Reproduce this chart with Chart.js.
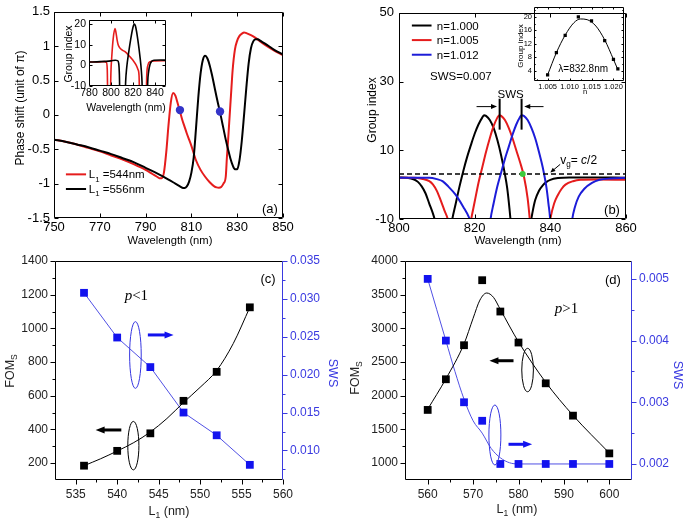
<!DOCTYPE html>
<html>
<head>
<meta charset="utf-8">
<script src="https://cdn.jsdelivr.net/npm/chart.js@4.4.1/dist/chart.umd.min.js"></script>
<style>
  html, body { margin: 0; padding: 0; background: #fff; }
  #wrap { position: relative; width: 685px; height: 522px; }
  #wrap canvas { position: absolute; left: 0; top: 0; }
</style>
</head>
<body>
<div id="wrap">
  <canvas id="chartA" width="685" height="522"></canvas>
  <canvas id="chartB" width="685" height="522"></canvas>
  <canvas id="chartC" width="685" height="522"></canvas>
  <canvas id="chartD" width="685" height="522"></canvas>
  <canvas id="insetA" width="685" height="522"></canvas>
  <canvas id="insetB" width="685" height="522"></canvas>
</div>
<script>
// ---- panel (a): phase shift ----
const waveA544 = [750,755,760,765,770,775,780,785,790,793,795,796,797,798,799,800,801,802,803,804,805,806,807,808,809,810,812,814,816,818,820,821,822,823,824,825,825.5,826,826.5,827,827.5,828,829,830,831,832,833,834,836,838,840,843,846,850];
const phaseA544 = [-0.36,-0.39,-0.43,-0.48,-0.53,-0.59,-0.65,-0.72,-0.80,-0.86,-0.9,-0.92,-0.92,-0.84,-0.55,-0.15,0.18,0.32,0.28,0.17,0.05,-0.07,-0.17,-0.27,-0.36,-0.45,-0.66,-0.8,-0.9,-0.98,-1.04,-1.055,-1.06,-1.05,-1.0,-0.9,-0.62,-0.38,-0.12,0.14,0.4,0.65,0.95,1.08,1.15,1.18,1.2,1.19,1.16,1.12,1.07,1.0,0.94,0.87];
const waveA556 = [750,755,760,765,770,775,780,785,790,795,800,803,805,806,807,808,809,810,811,812,813,814,815,816,817,818,819,820,821,822,823,824,825,826,827,828,829,830,831,832,833,834,835,836,837,838,839,840,843,846,850];
const phaseA556 = [-0.36,-0.39,-0.43,-0.47,-0.52,-0.57,-0.63,-0.69,-0.77,-0.85,-0.94,-1.0,-1.04,-1.06,-1.065,-1.04,-0.97,-0.84,-0.62,-0.2,0.25,0.6,0.8,0.86,0.82,0.72,0.58,0.42,0.26,0.11,-0.04,-0.2,-0.36,-0.5,-0.63,-0.73,-0.79,-0.79,-0.66,-0.38,0.0,0.4,0.75,0.97,1.07,1.1,1.1,1.08,1.02,0.95,0.88];
const dotWave = [805, 822.5];
const dotPhase = [0.07, 0.05];
const ticksAX = [750, 770, 790, 810, 830, 850];
const ticksAY = [-1.5, -1, -0.5, 0, 0.5, 1, 1.5];

// inset of (a): group index
const insWave544 = [780,790,794,795.8,796.6,797.2,799.3,799.9,800.8,802,803.6,804.5,805.5,806.5,808,810,813,817,820,823,824.5,825.5,826.2,831.8,832.5,833.5,835.5,840,850];
const insGi544 = [1.6,1.7,1.8,1.5,-2,-20,-20,-4,5,13,17.8,16,12.5,10,8.5,7.5,6.5,4.3,2.5,0,-2,-5,-20,-20,-5,0,1.8,2.1,2.3];
const insWave556 = [780,790,800,804,806,807,807.6,808.3,812.6,813.3,814.3,816,818,820,821.2,822.5,824.5,826.5,827.5,828.2,828.8,832.8,833.4,834.2,835.5,837,839,845,850];
const insGi556 = [1.6,1.8,2.2,2.5,2.3,1.0,-4,-20,-20,-8,-1,6,13,18.5,20,18.5,12,3.5,-2,-8,-20,-20,-8,-3,0.5,2,2.5,2.6,2.5];
const ticksIAX = [780, 800, 820, 840];
const ticksIAY = [-10, 0, 10, 20];

// ---- panel (b): group index ----
const waveB1000 = [800,802,804,805,806,807,808,809,809.5,810,811,813,813.5,814,815,816,817,818,819,820,821,822,822.5,823,824,825,826,827,828,828.6,829.2,829.6,830,834,834.7,835.3,836,837,838,839,840,842,845,850,860];
const giB1000 = [2.1,2.0,1.5,0.8,-0.5,-2.5,-5.5,-8.5,-10.5,-14,-20,-20,-14,-10.5,-5.5,-0.5,4,8,11.5,14.8,17.5,19.5,20.2,20.0,18.8,16.5,13,8.5,3,-1,-7,-12,-20,-20,-12,-8,-4.5,-1.8,-0.2,0.8,1.4,1.9,2.1,2.1,2.0];
const waveB1005 = [800,804,806,808,809,810,811,812,813,813.5,814,818,818.5,819,820,821,822,823,824,825,826,826.5,827,828,829,830,831,832,833,834,834.6,835,835.3,839,839.5,840,841,842,843,844,846,848,852,860];
const giB1005 = [2.0,2.0,1.7,1.0,0,-1.8,-4.5,-7.5,-10.5,-14,-20,-20,-14,-10.5,-5,0.5,5,9.5,13.5,17,19.5,20.2,20.0,18.8,16.5,13.5,10,6.5,2.5,-4,-10.5,-16,-20,-20,-14,-10,-5.5,-3,-1.2,0,1.0,1.4,1.5,1.4];
const waveB1012 = [800,808,810,811.5,813,815,817,818.5,819,819.5,820,823.5,823.8,824.2,825,826,827,828,829,830,831,832,832.4,833,834,835,836,837,838,839,839.5,840,840.3,845,845.4,845.8,846.5,847.5,849,851,853,856,860];
const giB1012 = [2.0,2.0,1.6,1.0,-0.5,-3,-6.5,-9.5,-11,-14,-20,-20,-14,-10,-5.5,-0.5,3.5,7.5,11,14.5,17.5,19.7,20.2,20.0,18.8,16.5,13.5,9.5,5,-1,-5.5,-11,-20,-20,-14,-10,-6.5,-3.5,-1.2,0.5,1.4,1.8,2.0];
const vgWave = [800, 860];
const vgLevel = [3.1, 3.1];
const greenWave = [832.7];
const greenLevel = [3.1];
const ticksBX = [800, 820, 840, 860];
const ticksBY = [-10, 10, 30, 50];

// inset of (b): group index vs n
const nInset = [1.005, 1.007, 1.009, 1.012, 1.015, 1.018, 1.020, 1.021];
const giInset = [2.8, 9.4, 14.5, 20, 18.8, 13, 7.4, 4.6];
const nFit = [1.005, 1.007, 1.009, 1.011, 1.0125, 1.014, 1.016, 1.018, 1.020, 1.021];
const giFit = [2.8, 9.4, 14.6, 18.3, 19.4, 19.2, 17.3, 13.2, 7.4, 4.4];
const ticksIBX = [1.005, 1.010, 1.015, 1.020];
const ticksIBY = [4, 8, 12, 16, 20];

// ---- panel (c): p < 1 ----
const lenC = [536, 540, 544, 548, 552, 556];
const fomC = [185, 273, 377, 570, 742, 1125];
const swsC = [0.0308, 0.0249, 0.0210, 0.0150, 0.0120, 0.0081];
const fitLenC = [536, 538, 540, 542, 544, 546, 548, 550, 552, 554, 556];
const fitFomC = [185, 226, 272, 322, 385, 465, 560, 650, 750, 910, 1125];
const ticksCX = [535, 540, 545, 550, 555, 560];
const ticksCY = [200, 400, 600, 800, 1000, 1200, 1400];
const ticksCY2 = [0.010, 0.015, 0.020, 0.025, 0.030, 0.035];

// ---- panel (d): p > 1 ----
const lenD = [560, 564, 568, 572, 576, 580, 586, 592, 600];
const fomD = [1790, 2245, 2750, 3715, 3250, 2790, 2185, 1705, 1145];
const swsD = [0.005, 0.004, 0.003, 0.0027, 0.002, 0.002, 0.002, 0.002, 0.002];
const fitLenD = [560, 564, 568, 570, 571.5, 573, 574.5, 576, 580, 586, 592, 600];
const fitFomD = [1800, 2250, 2770, 3150, 3420, 3525, 3460, 3280, 2800, 2200, 1710, 1150];
const fitSwsLenD = [560, 562, 564, 566, 568, 570, 572, 574, 576, 578, 580, 600];
const fitSwsD = [0.005, 0.0045, 0.004, 0.0035, 0.00305, 0.0027, 0.0025, 0.00225, 0.0021, 0.00202, 0.002, 0.002];
const ticksDX = [560, 570, 580, 590, 600];
const ticksDY = [1000, 1500, 2000, 2500, 3000, 3500, 4000];
const ticksDY2 = [0.002, 0.003, 0.004, 0.005];

const W = 685, H = 522;
const FONT = '"Liberation Sans", Arial, sans-serif';
const SERIF = '"Liberation Serif", "Times New Roman", serif';
const RED = '#e51c1c';
const BLUE = '#1c1cd8';
const BLUE_MARK = '#1212ee';
const BLUE_LINE = '#5050e4';

Chart.defaults.font.family = FONT;
Chart.defaults.color = '#000';
Chart.defaults.animation = false;
Chart.defaults.events = [];
Chart.defaults.plugins.legend.display = false;
Chart.defaults.plugins.tooltip.enabled = false;
Chart.defaults.elements.point.radius = 0;
Chart.defaults.elements.line.cubicInterpolationMode = 'monotone';

function xy(xs, ys) {
    return xs.map((x, i) => ({ x: x, y: ys[i] }));
}

// padding so that the plot area lands on L,T,R,B of the page
function pad(L, T, R, B, leftW, bottomH, rightW) {
    return { left: L - leftW, top: T, right: W - R - (rightW || 0), bottom: H - B - bottomH };
}

function axis(o) {
    return {
        type: 'linear', position: o.pos, min: o.min, max: o.max,
        grid: { display: false, drawTicks: false },
        border: { display: false },
        afterFit: s => { if (s.isHorizontal()) s.height = o.size; else s.width = o.size; },
        afterBuildTicks: s => { s.ticks = o.ticks.map(v => ({ value: v })); },
        ticks: {
            autoSkip: false, maxRotation: 0, padding: o.gap,
            color: o.color || '#000',
            font: { family: FONT, size: o.font || 12 },
            callback: o.fmt || (v => String(v))
        }
    };
}

// box and tick marks
function frame(spec) {
    return {
        id: 'frame',
        afterDatasetsDraw(chart) {
            const ctx = chart.ctx, a = chart.chartArea;
            const L = Math.round(a.left) + 0.5, R = Math.round(a.right) - 0.5;
            const T = Math.round(a.top) + 0.5, B = Math.round(a.bottom) - 0.5;
            const seg = (x1, y1, x2, y2, c) => {
                ctx.strokeStyle = c; ctx.beginPath(); ctx.moveTo(x1, y1); ctx.lineTo(x2, y2); ctx.stroke();
            };
            ctx.save();
            ctx.lineWidth = 1;
            Object.keys(spec).forEach(id => {
                const s = chart.scales[id], o = spec[id], col = o.color || '#000';
                const major = s.ticks.map(t => t.value);
                const marks = major.map(v => [v, o.len]);
                if (o.minor) {
                    const step = major[1] - major[0];
                    [major[0] - step / 2].concat(major.map(v => v + step / 2)).forEach(v => {
                        if (v > s.min + 1e-9 && v < s.max - 1e-9) marks.push([v, o.len * 0.6]);
                    });
                }
                const sign = o.inward ? 1 : -1;
                marks.forEach(([v, len]) => {
                    const p = Math.round(s.getPixelForValue(v)) + 0.5;
                    if (s.isHorizontal()) {
                        seg(p, B, p, B - sign * len, col);
                        if (o.mirror) seg(p, T, p, T + sign * len, col);
                    } else if (s.position === 'left') {
                        seg(L, p, L + sign * len, p, col);
                        if (o.mirror) seg(R, p, R - sign * len, p, col);
                    } else {
                        seg(R, p, R - sign * len, p, col);
                    }
                });
            });
            seg(L, T, R, T, '#000');
            seg(L, B, R, B, '#000');
            seg(L, T, L, B, '#000');
            seg(R, T, R, B, spec.y2 ? spec.y2.color : '#000');
            ctx.restore();
        }
    };
}

// text with subscripts / italics
function drawParts(ctx, parts, x, y, size, align, color) {
    const segs = parts.map(p => {
        const st = p[1] || {};
        const sz = st.sub ? size * 0.68 : size;
        const font = (st.it ? 'italic ' : '') + sz + 'px ' + (st.serif ? SERIF : FONT);
        ctx.font = font;
        return { text: p[0], font: font, w: ctx.measureText(p[0]).width, dy: st.sub ? size * 0.28 : 0 };
    });
    const total = segs.reduce((s, g) => s + g.w, 0);
    let cx = align === 'center' ? x - total / 2 : (align === 'right' ? x - total : x);
    ctx.fillStyle = color;
    ctx.textAlign = 'left';
    ctx.textBaseline = 'alphabetic';
    const base = y + size * 0.36;
    segs.forEach(g => { ctx.font = g.font; ctx.fillText(g.text, cx, base + g.dy); cx += g.w; });
}

function arrowHead(ctx, x1, y1, x2, y2, len, half) {
    const ang = Math.atan2(y2 - y1, x2 - x1);
    ctx.beginPath();
    ctx.moveTo(x2, y2);
    ctx.lineTo(x2 - len * Math.cos(ang) + half * Math.sin(ang), y2 - len * Math.sin(ang) - half * Math.cos(ang));
    ctx.lineTo(x2 - len * Math.cos(ang) - half * Math.sin(ang), y2 - len * Math.sin(ang) + half * Math.cos(ang));
    ctx.closePath();
    ctx.fill();
}

// annotations: positions in data units unless px is set
function notes(items) {
    return {
        id: 'notes',
        afterDraw(chart) {
            const ctx = chart.ctx;
            const P = (it, p) => it.px ? p : [chart.scales.x.getPixelForValue(p[0]), chart.scales.y.getPixelForValue(p[1])];
            items.forEach(it => {
                const color = it.color || '#000';
                ctx.save();
                ctx.strokeStyle = color;
                ctx.fillStyle = color;
                ctx.lineWidth = it.width || 1;
                if (it.t === 'text') {
                    const p = P(it, it.at);
                    ctx.translate(p[0], p[1]);
                    if (it.rot) ctx.rotate(it.rot * Math.PI / 180);
                    drawParts(ctx, it.parts, 0, 0, it.size || 12, it.align || 'left', color);
                } else if (it.t === 'line' || it.t === 'arrow') {
                    const a = P(it, it.from), b = P(it, it.to);
                    let ex = b[0], ey = b[1];
                    if (it.t === 'arrow') {
                        const d = Math.hypot(b[0] - a[0], b[1] - a[1]);
                        ex = b[0] - (b[0] - a[0]) / d * it.head * 0.7;
                        ey = b[1] - (b[1] - a[1]) / d * it.head * 0.7;
                    }
                    ctx.beginPath(); ctx.moveTo(a[0], a[1]); ctx.lineTo(ex, ey); ctx.stroke();
                    if (it.t === 'arrow') arrowHead(ctx, a[0], a[1], b[0], b[1], it.head, it.half);
                } else if (it.t === 'ellipse') {
                    const c = P(it, it.at);
                    const rx = Math.abs(chart.scales.x.getPixelForValue(it.at[0] + it.r[0]) - c[0]);
                    const ry = Math.abs(chart.scales.y.getPixelForValue(it.at[1] + it.r[1]) - c[1]);
                    ctx.beginPath(); ctx.ellipse(c[0], c[1], rx, ry, 0, 0, Math.PI * 2); ctx.stroke();
                }
                ctx.restore();
            });
        }
    };
}

function make(id, datasets, scales, padding, plugins) {
    return new Chart(document.getElementById(id), {
        type: 'line',
        data: { datasets: datasets },
        options: { responsive: false, layout: { padding: padding }, scales: scales },
        plugins: plugins
    });
}

const L1 = txt => [['L'], ['1', { sub: 1 }], [txt]];

// (a)
make('chartA', [
    { data: xy(dotWave, dotPhase), showLine: false, pointRadius: 4.2, pointBackgroundColor: '#3434c8', pointBorderWidth: 0 },
    { data: xy(waveA556, phaseA556), borderColor: '#000', borderWidth: 2 },
    { data: xy(waveA544, phaseA544), borderColor: RED, borderWidth: 2 }
], {
    x: axis({ pos: 'bottom', min: 750, max: 850, ticks: ticksAX, size: 42, gap: 2, font: 13 }),
    y: axis({ pos: 'left', min: -1.5, max: 1.5, ticks: ticksAY, size: 54, gap: 4, font: 13 })
}, pad(54, 7, 283, 218, 54, 42), [
    frame({ x: { len: 4, inward: true, mirror: true }, y: { len: 4, inward: true, mirror: true } }),
    notes([
        { t: 'line', from: [755.2, -0.865], to: [764, -0.865], color: RED, width: 2 },
        { t: 'text', at: [765.2, -0.865], parts: L1(' =544nm'), size: 11.5 },
        { t: 'line', from: [755.2, -1.078], to: [764, -1.078], width: 2 },
        { t: 'text', at: [765.2, -1.078], parts: L1(' =556nm'), size: 11.5 },
        { t: 'text', at: [844.3, -1.36], parts: [['(a)']], size: 13, align: 'center' },
        { t: 'text', px: true, at: [20, 108], rot: -90, parts: [['Phase shift (unit of π)']], size: 12, align: 'center' },
        { t: 'text', px: true, at: [170, 240], parts: [['Wavelength (nm)']], size: 11.2, align: 'center' }
    ])
]);

// inset of (a)
make('insetA', [
    { data: xy(insWave556, insGi556), borderColor: '#000', borderWidth: 1.6 },
    { data: xy(insWave544, insGi544), borderColor: RED, borderWidth: 1.6 }
], {
    x: axis({ pos: 'bottom', min: 780, max: 850, ticks: ticksIAX, size: 14, gap: 1, font: 10.5 }),
    y: axis({ pos: 'left', min: -10, max: 22, ticks: ticksIAY, size: 20, gap: 3, font: 10.5 })
}, pad(89, 20, 166, 86, 20, 14), [
    frame({ x: { len: 3, inward: true, mirror: true }, y: { len: 3, inward: true, mirror: true } }),
    notes([
        { t: 'text', px: true, at: [68, 54], rot: -90, parts: [['Group index']], size: 10.5, align: 'center' },
        { t: 'text', px: true, at: [126, 107], parts: [['Wavelength (nm)']], size: 10.5, align: 'center' }
    ])
]);

// (b)
make('chartB', [
    { data: xy(greenWave, greenLevel), showLine: false, pointRadius: 3, pointBackgroundColor: '#3ccb3c', pointBorderWidth: 0 },
    { data: xy(vgWave, vgLevel), borderColor: '#000', borderWidth: 1.5, borderDash: [5, 3], cubicInterpolationMode: 'default' },
    { data: xy(waveB1012, giB1012), borderColor: BLUE, borderWidth: 2 },
    { data: xy(waveB1005, giB1005), borderColor: RED, borderWidth: 2 },
    { data: xy(waveB1000, giB1000), borderColor: '#000', borderWidth: 2 }
], {
    x: axis({ pos: 'bottom', min: 800, max: 860, ticks: ticksBX, size: 42, gap: 2, font: 13 }),
    y: axis({ pos: 'left', min: -10, max: 50, ticks: ticksBY, size: 54, gap: 5, font: 13 })
}, pad(399, 7, 626, 219, 54, 42), [
    frame({ x: { len: 4, inward: true, mirror: true }, y: { len: 4, inward: true, mirror: true } }),
    notes([
        { t: 'line', from: [803.4, 46.3], to: [808.6, 46.3], width: 2 },
        { t: 'text', at: [810, 46.3], parts: [['n=1.000']], size: 11.5 },
        { t: 'line', from: [803.4, 42.06], to: [808.6, 42.06], color: RED, width: 2 },
        { t: 'text', at: [810, 42.06], parts: [['n=1.005']], size: 11.5 },
        { t: 'line', from: [803.4, 37.8], to: [808.6, 37.8], color: BLUE, width: 2 },
        { t: 'text', at: [810, 37.8], parts: [['n=1.012']], size: 11.5 },
        { t: 'text', at: [808.2, 31.6], parts: [['SWS=0.007']], size: 11.5 },
        { t: 'text', at: [829.5, 26.4], parts: [['SWS']], size: 11.5, align: 'center' },
        { t: 'line', from: [826.6, 25], to: [826.6, 16], width: 2 },
        { t: 'line', from: [832.4, 25], to: [832.4, 16], width: 2 },
        { t: 'arrow', from: [820.5, 22.7], to: [825.9, 22.7], head: 6, half: 2.5 },
        { t: 'arrow', from: [838.2, 22.7], to: [833.1, 22.7], head: 6, half: 2.5 },
        { t: 'text', at: [842.6, 7.4], parts: [['v'], ['g', { sub: 1 }], ['= '], ['c', { it: 1 }], ['/2']], size: 12 },
        { t: 'arrow', from: [842.6, 5.9], to: [840, 3.5], head: 5, half: 2.2 },
        { t: 'text', at: [856.3, -7.3], parts: [['(b)']], size: 13, align: 'center' },
        { t: 'text', px: true, at: [372, 110], rot: -90, parts: [['Group index']], size: 12, align: 'center' },
        { t: 'text', px: true, at: [518, 240], parts: [['Wavelength (nm)']], size: 11.5, align: 'center' }
    ])
]);

// inset of (b)
make('insetB', [
    { data: xy(nInset, giInset), showLine: false, pointStyle: 'rect', pointRadius: 2.3, pointBackgroundColor: '#000', pointBorderWidth: 0 },
    { data: xy(nFit, giFit), borderColor: '#000', borderWidth: 1 }
], {
    x: axis({ pos: 'bottom', min: 1.0019, max: 1.0224, ticks: ticksIBX, size: 10, gap: 1, font: 7.5, fmt: v => v.toFixed(3) }),
    y: axis({ pos: 'left', min: 1, max: 23.1, ticks: ticksIBY, size: 16, gap: 2, font: 7.5 })
}, pad(534, 5, 624, 81, 16, 10), [
    frame({ x: { len: 2, inward: true, mirror: true, minor: true }, y: { len: 2, inward: true, mirror: true, minor: true } }),
    notes([
        { t: 'text', at: [1.0131, 4.7], parts: [['λ=832.8nm']], size: 10, align: 'center' },
        { t: 'text', px: true, at: [520, 46], rot: -90, parts: [['Group index']], size: 8, align: 'center' },
        { t: 'text', px: true, at: [585, 91], parts: [['n']], size: 7.5, align: 'center' }
    ])
]);

// (c)
make('chartC', [
    { data: xy(lenC, fomC), showLine: false, pointStyle: 'rect', pointRadius: 5.5, pointBackgroundColor: '#000', pointBorderWidth: 0 },
    { data: xy(lenC, swsC), yAxisID: 'y2', showLine: false, pointStyle: 'rect', pointRadius: 5.5, pointBackgroundColor: BLUE_MARK, pointBorderWidth: 0 },
    { data: xy(fitLenC, fitFomC), borderColor: '#000', borderWidth: 1 },
    { data: xy(lenC, swsC), yAxisID: 'y2', borderColor: BLUE_LINE, borderWidth: 1, cubicInterpolationMode: 'default', tension: 0 }
], {
    x: axis({ pos: 'bottom', min: 532.5, max: 560, ticks: ticksCX, size: 42, gap: 7, color: '#222' }),
    y: axis({ pos: 'left', min: 100, max: 1400, ticks: ticksCY, size: 55, gap: 7, color: '#222' }),
    y2: axis({ pos: 'right', min: 0.0061, max: 0.035, ticks: ticksCY2, size: 50, gap: 7, color: '#3a3ae0', fmt: v => v.toFixed(3) })
}, pad(55, 261, 283, 480, 55, 42, 50), [
    frame({ x: { len: 5, minor: true }, y: { len: 5, minor: true }, y2: { len: 5, minor: true, color: '#3a3ae0' } }),
    notes([
        { t: 'text', at: [558.2, 1299], parts: [['(c)']], size: 13, align: 'center' },
        { t: 'text', at: [540.9, 1198], parts: [['p', { it: 1, serif: 1 }], ['<1', { serif: 1 }]], size: 15 },
        { t: 'ellipse', at: [542.2, 842], r: [0.7, 198], color: '#3535e0' },
        { t: 'arrow', from: [543.7, 961], to: [546.8, 961], color: BLUE_MARK, width: 3, head: 9, half: 3.5 },
        { t: 'ellipse', at: [541.95, 304], r: [0.67, 144] },
        { t: 'arrow', from: [540.5, 397], to: [537.4, 397], width: 3, head: 9, half: 3.5 },
        { t: 'text', px: true, at: [9, 371], rot: -90, parts: [['FOM'], ['S', { sub: 1 }]], size: 12.5, align: 'center', color: '#222' },
        { t: 'text', px: true, at: [169, 510], parts: L1(' (nm)'), size: 12.5, align: 'center', color: '#222' },
        { t: 'text', px: true, at: [333, 373], rot: 90, parts: [['SWS']], size: 12.5, align: 'center', color: '#3a3ae0' }
    ])
]);

// (d)
make('chartD', [
    { data: xy(lenD, fomD), showLine: false, pointStyle: 'rect', pointRadius: 5.5, pointBackgroundColor: '#000', pointBorderWidth: 0 },
    { data: xy(lenD, swsD), yAxisID: 'y2', showLine: false, pointStyle: 'rect', pointRadius: 5.5, pointBackgroundColor: BLUE_MARK, pointBorderWidth: 0 },
    { data: xy(fitLenD, fitFomD), borderColor: '#000', borderWidth: 1 },
    { data: xy(fitSwsLenD, fitSwsD), yAxisID: 'y2', borderColor: BLUE_LINE, borderWidth: 1 }
], {
    x: axis({ pos: 'bottom', min: 555, max: 605, ticks: ticksDX, size: 42, gap: 7, color: '#222' }),
    y: axis({ pos: 'left', min: 750, max: 4000, ticks: ticksDY, size: 55, gap: 7, color: '#222' }),
    y2: axis({ pos: 'right', min: 0.00174, max: 0.00529, ticks: ticksDY2, size: 50, gap: 7, color: '#3a3ae0', fmt: v => v.toFixed(3) })
}, pad(405, 261, 632, 480, 55, 42, 50), [
    frame({ x: { len: 5, minor: true }, y: { len: 5, minor: true }, y2: { len: 5, minor: true, color: '#3a3ae0' } }),
    notes([
        { t: 'text', at: [600.8, 3733], parts: [['(d)']], size: 13, align: 'center' },
        { t: 'text', at: [588.0, 3302], parts: [['p', { it: 1, serif: 1 }], ['>1', { serif: 1 }]], size: 15 },
        { t: 'ellipse', at: [582.0, 2382], r: [1.28, 322] },
        { t: 'arrow', from: [578.9, 2520], to: [573.6, 2520], width: 3, head: 9, half: 3.5 },
        { t: 'ellipse', at: [574.8, 1418], r: [1.32, 445], color: '#3535e0' },
        { t: 'arrow', from: [577.8, 1280], to: [583.0, 1280], color: BLUE_MARK, width: 3, head: 9, half: 3.5 },
        { t: 'text', px: true, at: [354, 378], rot: -90, parts: [['FOM'], ['S', { sub: 1 }]], size: 12.5, align: 'center', color: '#222' },
        { t: 'text', px: true, at: [517, 508], parts: L1(' (nm)'), size: 12.5, align: 'center', color: '#222' },
        { t: 'text', px: true, at: [678, 375], rot: 90, parts: [['SWS']], size: 12.5, align: 'center', color: '#3a3ae0' }
    ])
]);
</script>
</body>
</html>
